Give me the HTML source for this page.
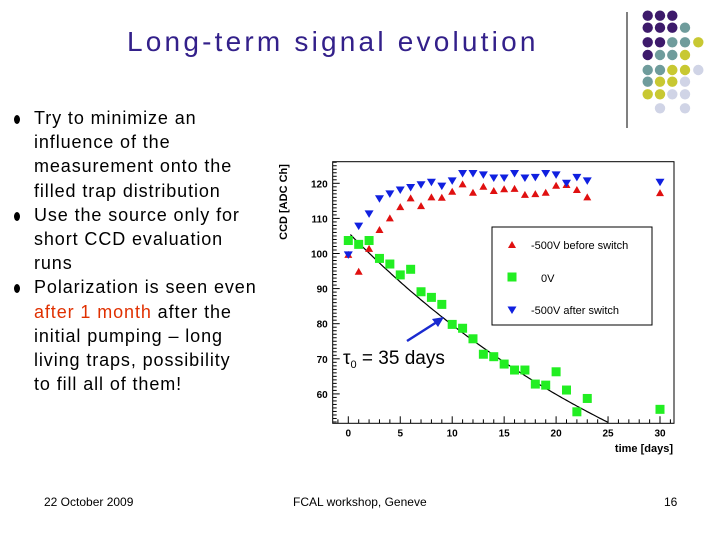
<!DOCTYPE html>
<html><head><meta charset="utf-8"><style>
body{margin:0;width:720px;height:540px;background:#fff;position:relative;overflow:hidden;font-family:"Liberation Sans",sans-serif}
.t{position:absolute;white-space:nowrap}
ul{position:absolute;left:12px;top:106px;margin:0;padding:0;list-style:none;font-size:18px;line-height:24.2px;color:#000;letter-spacing:0.9px}
li{position:relative;padding-left:22px}
li:before{content:"";position:absolute;left:2px;top:9px;width:6px;height:9px;border-radius:50%;background:#000}
</style></head><body>
<div class="t" style="left:127px;top:26px;font-size:28px;color:#33208a;letter-spacing:3.2px">Long-term signal evolution</div>
<ul>
<li>Try to minimize an<br>influence of the<br>measurement onto the<br>filled trap distribution</li>
<li>Use the source only for<br>short CCD evaluation<br>runs</li>
<li>Polarization is seen even<br><span style="color:#e03000">after 1 month</span> after the<br>initial pumping – long<br>living traps, possibility<br>to fill all of them!</li>
</ul>
<div class="t" style="left:44px;top:495px;font-size:12px">22 October 2009</div>
<div class="t" style="left:293px;top:495px;font-size:12px">FCAL workshop, Geneve</div>
<div class="t" style="left:664px;top:495px;font-size:12px">16</div>
<svg id="deco" width="720" height="540" style="position:absolute;left:0;top:0">
<line x1="627" y1="12" x2="627" y2="128" stroke="#000" stroke-width="1"/>
</svg>
<svg id="chart" width="720" height="540" style="position:absolute;left:0;top:0"></svg>
<script>
var days=[0,1,2,3,4,5,6,7,8,9,10,11,12,13,14,15,16,17,18,19,20,21,22,23,30];
var redVals=[99.6,94.8,101.3,106.7,110,113.2,115.7,113.5,116,115.9,117.6,119.7,117.3,119,117.8,118.3,118.4,116.7,116.9,117.3,119.3,119.5,118.1,116,117.2];
var blueVals=[99.6,107.8,111.3,115.6,117,118.1,118.8,119.6,120.3,119.2,120.7,122.8,122.8,122.4,121.5,121.5,122.8,121.5,121.7,122.8,122.4,120,121.7,120.7,120.3];
var greenVals=[103.7,102.6,103.7,98.6,97,93.9,95.5,89.1,87.5,85.5,79.8,78.7,75.7,71.3,70.6,68.5,66.8,66.8,62.8,62.5,66.3,61.1,54.9,58.7,55.6];
var xTicks=[0,5,10,15,20,25,30];
var yTicks=[60,70,80,90,100,110,120];
var fitA=106, fitTau=35;
var legendLabels=["-500V before switch","0V","-500V after switch"];
var dotRows=["PPP","PPPT","PPTTY","PTTY","TTYYL","TYYL","YYLL","_L_L"];

var NS="http://www.w3.org/2000/svg";
var svg=document.getElementById('chart');
function X(d){return 348.3+d*10.39;}
function Y(v){return 183.3+(120-v)*3.51;}
var L=332.7,R=674,T=161.7,B=423.3;
function mk(tag,at,parent){var e=document.createElementNS(NS,tag);for(var k in at)e.setAttribute(k,at[k]);(parent||svg).appendChild(e);return e;}
var frame=mk('rect',{x:L,y:T,width:R-L,height:B-T,fill:'none',stroke:'#000','stroke-width':1});


for(var d=-1;d<=31;d++){var x=X(d);if(x<L||x>R)continue;var len=(d%5==0)?7:4;mk('line',{x1:x,y1:B,x2:x,y2:B-len,stroke:'#000'});}
xTicks.forEach(function(t){var e=mk('text',{x:X(t),y:B+13,'font-size':10,'font-weight':'bold','text-anchor':'middle',fill:'#000'});e.textContent=t;

});
for(var v=52;v<=126;v++){var y=Y(v);if(y<T||y>B)continue;var len=(v%10==0)?7:4;mk('line',{x1:L,y1:y,x2:L+len,y2:y,stroke:'#000'});}
yTicks.forEach(function(t){var e=mk('text',{x:L-5,y:Y(t)+4,'font-size':10,'font-weight':'bold','text-anchor':'end',fill:'#000'});e.textContent=t;

});
var xt=mk('text',{x:673,y:452,'font-size':11,'font-weight':'bold','text-anchor':'end'});xt.textContent='time [days]';


var yt=mk('text',{x:0,y:0,'font-size':11,'font-weight':'bold','text-anchor':'middle',transform:'translate(287,202) rotate(-90)'});yt.textContent='CCD [ADC Ch]';


var pts=[];for(var t=0.2;t<=30;t+=0.2){var fv=fitA*Math.exp(-t/fitTau);var yy=Y(fv);if(yy>B)break;pts.push(X(t).toFixed(1)+','+yy.toFixed(1));}
var fit=mk('polyline',{points:pts.join(' '),fill:'none',stroke:'#000','stroke-width':1.2});


function up(x,y,c){return mk('polygon',{points:(x)+','+(y-4)+' '+(x-4)+','+(y+3)+' '+(x+4)+','+(y+3),fill:c});}
function dn(x,y,c){return mk('polygon',{points:(x-4.5)+','+(y-3.5)+' '+(x+4.5)+','+(y-3.5)+' '+x+','+(y+4),fill:c});}
function sq(x,y,c){return mk('rect',{x:x-4.5,y:y-4.5,width:9,height:9,fill:c});}
days.forEach(function(d,i){
 var g=sq(X(d),Y(greenVals[i]),'#22ee22');
 
 
 var r=up(X(d),Y(redVals[i]),'#e01010');
 
 
 var b=dn(X(d),Y(blueVals[i]),'#1020e0');
 
 
});
var lg=mk('rect',{x:492,y:227,width:160,height:98,fill:'#fff',stroke:'#000','stroke-width':1});


up(512,245,'#e01010');sq(512,277,'#22ee22');dn(512,310,'#1020e0');
[[531,249],[541,282],[531,314]].forEach(function(p,i){var e=mk('text',{x:p[0],y:p[1],'font-size':11,fill:'#000'});e.textContent=legendLabels[i];

});
mk('line',{x1:407,y1:341,x2:440,y2:320,stroke:'#1a2ad0','stroke-width':2.5});
mk('polygon',{points:'444,317 432,319 438,327',fill:'#1a2ad0'});
var an=mk('text',{x:343,y:364,'font-size':19,fill:'#000'});an.innerHTML='τ<tspan font-size="11" dy="4">0</tspan><tspan dy="-4"> = 35 days</tspan>';


var deco=document.getElementById('deco');
var cols=[647.7,660,672.3,685,698.3],rows=[15.7,27.7,42.3,55,70,81.7,94.3,108.3];
var cmap={P:'#3d1a6b',T:'#6f9c9c',Y:'#c8c832',L:'#d0d4e6'};
dotRows.forEach(function(s,ri){for(var ci=0;ci<s.length;ci++){var c=s[ci];if(c=='_')continue;
 var e=mk('circle',{cx:cols[ci],cy:rows[ri],r:5.2,fill:cmap[c]},deco);
 
 }});
</script>
</body></html>
